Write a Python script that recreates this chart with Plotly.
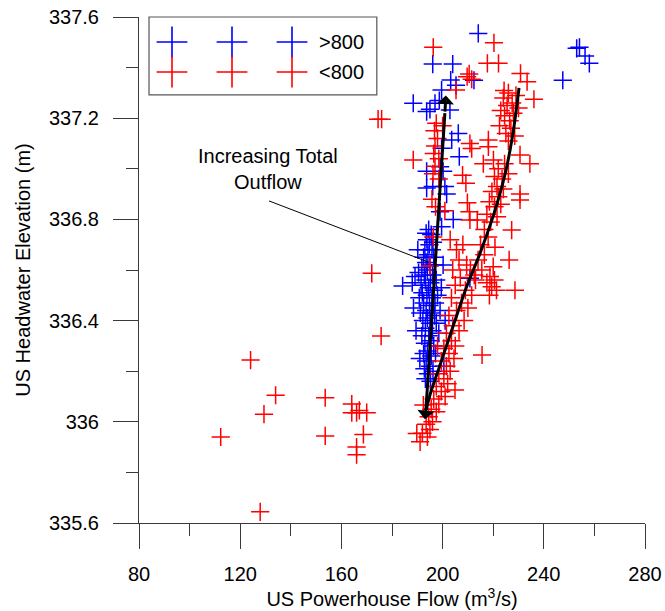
import plotly.graph_objects as go

# ---------------- data ----------------
# blue crosses: total outflow > 800
BLUE_X = [214.1, 253.0, 254.1, 256.3, 258.0, 247.5, 196.1, 204.0, 203.2, 205.3,
          212.4, 199.6, 198.7, 188.4, 195.0, 197.0, 202.9, 206.2, 203.6, 206.6,
          199.6, 199.0, 193.7, 200.2, 196.1, 200.9, 201.6, 199.0, 204.2, 199.6,
          184.2, 189.1, 210.8, 193.7, 193.7,
          194.5, 195.5, 193.8, 196.2, 194.8, 193.0, 195.8, 194.2, 192.5, 196.5,
          193.5, 195.0, 191.8, 197.0, 194.0, 192.8, 196.0, 190.5, 193.2, 195.2,
          197.5, 191.5, 194.5, 192.0, 196.5, 193.8, 195.8, 190.8, 198.0, 192.5,
          194.8, 197.0, 193.5, 195.5, 191.2, 196.8, 199.0, 194.0, 192.2, 195.0,
          197.5, 193.2, 196.0, 194.5, 191.8, 198.5, 195.2, 193.0, 196.5, 194.0,
          192.5, 195.5, 197.2, 193.5, 195.0, 192.8, 194.2, 196.2, 193.2, 195.2,
          200.5, 201.0, 199.5, 188.5, 189.5, 190.2, 193.5, 200.2, 188.0, 191.0]
BLUE_Y = [337.535, 337.476, 337.48, 337.446, 337.417, 337.35, 337.414, 337.414, 337.351, 337.33,
          337.35, 337.311, 337.27, 337.259, 337.235, 337.259, 337.232, 337.14, 337.114, 337.048,
          337.081, 337.008, 336.99, 336.99, 336.93, 336.93, 336.90, 336.83, 336.80, 336.771,
          336.537, 336.574, 336.567, 337.226, 336.924,
          336.76, 336.74, 336.72, 336.71, 336.70, 336.68, 336.68, 336.66, 336.65, 336.65,
          336.63, 336.62, 336.61, 336.62, 336.60, 336.58, 336.58, 336.59, 336.56, 336.55,
          336.56, 336.54, 336.53, 336.51, 336.52, 336.50, 336.49, 336.49, 336.50, 336.47,
          336.46, 336.47, 336.44, 336.43, 336.43, 336.42, 336.44, 336.41, 336.40, 336.39,
          336.39, 336.37, 336.36, 336.34, 336.34, 336.35, 336.32, 336.31, 336.30, 336.28,
          336.27, 336.26, 336.27, 336.24, 336.22, 336.21, 336.19, 336.20, 336.17, 336.16,
          336.22, 336.40, 336.53, 336.45, 336.36, 336.68, 336.745, 336.62, 336.55, 336.25]

# red crosses: total outflow < 800
RED_X = [124.1, 112.3, 129.4, 134.0, 127.9, 153.6, 153.6, 164.1, 164.1, 166.0,
         167.1, 170.0, 168.7, 166.0, 166.0, 175.7, 172.0, 175.9, 174.5, 188.4,
         196.3, 220.3, 217.7, 222.1, 210.5, 209.7, 211.5, 230.8, 233.4, 205.3,
         224.3, 236.1, 210.8, 211.5, 218.1, 218.1, 220.1, 216.1, 230.6, 234.5,
         207.9, 209.2, 230.6, 230.6, 209.8, 210.6, 210.8, 213.7, 200.9, 227.3,
         220.7, 226.3, 220.0, 218.7, 219.4, 221.3, 228.6, 195.0, 196.3, 215.6,
         204.9, 192.4, 189.8, 191.1,
         197.5, 196.8, 198.0, 197.0, 196.5, 198.5, 197.0, 196.2, 198.5, 195.8,
         197.2, 200.0,
         224.0, 226.0, 227.5, 229.0, 225.5, 228.0, 230.0, 224.5, 226.5, 223.0,
         227.0, 225.0, 228.5, 222.5, 226.0,
         222.0, 224.5, 220.5, 223.5, 226.0, 221.5, 219.5, 224.0, 222.0, 218.5,
         220.5, 223.0, 217.5, 219.0, 221.5, 216.5, 218.0, 215.0, 216.5, 214.0,
         212.5, 215.5, 217.5, 218.5, 220.5,
         203.0, 205.5, 208.0, 206.5, 209.5, 204.0, 211.0, 207.0, 213.0, 205.0,
         209.0, 211.5, 203.5, 207.5, 210.0, 205.5, 202.5, 208.5, 204.0, 206.5,
         201.5, 203.5, 205.0, 200.5, 202.5, 204.5, 199.5, 201.5, 203.0, 198.5,
         200.5, 202.0, 197.5, 199.5, 201.0, 196.5, 198.5, 195.5, 197.5, 194.5,
         196.0, 193.5, 195.0, 192.0, 194.0, 198.0]
RED_Y = [336.244, 335.94, 336.03, 336.105, 335.644, 336.095, 335.944, 336.07, 336.036, 336.036,
         336.045, 336.036, 335.95, 335.90, 335.87, 336.339, 336.587, 337.196, 337.196, 337.035,
         337.48, 337.498, 337.417, 337.417, 337.375, 337.364, 337.354, 337.377, 337.344, 337.311,
         337.309, 337.275, 337.10, 337.08, 337.114, 337.087, 337.035, 337.02, 337.055, 337.02,
         336.975, 336.943, 336.90, 336.877, 336.866, 336.83, 336.798, 336.798, 336.834, 336.758,
         336.69, 336.64, 336.613, 336.574, 336.534, 336.52, 336.52, 336.616, 336.73, 336.264,
         336.126, 336.066, 335.954, 335.921,
         337.18, 337.15, 337.12, 337.09, 337.06, 337.04, 337.01, 336.98, 336.96, 336.88,
         336.85, 337.17,
         337.28, 337.30, 337.26, 337.29, 337.25, 337.22, 337.24, 337.21, 337.19, 337.23,
         337.16, 337.14, 337.13, 337.17, 337.11,
         337.00, 337.02, 336.97, 336.96, 336.98, 336.93, 336.91, 336.92, 336.89, 336.87,
         336.85, 336.86, 336.82, 336.79, 336.81, 336.76, 336.73, 336.70, 336.66, 336.64,
         336.58, 336.60, 336.55, 336.50, 336.56,
         336.72, 336.68, 336.70, 336.64, 336.62, 336.60, 336.60, 336.57, 336.56, 336.54,
         336.52, 336.50, 336.49, 336.47, 336.45, 336.44, 336.42, 336.40, 336.38, 336.36,
         336.35, 336.32, 336.30, 336.29, 336.27, 336.25, 336.24, 336.22, 336.20, 336.19,
         336.17, 336.15, 336.14, 336.12, 336.10, 336.09, 336.07, 336.05, 336.04, 336.02,
         336.00, 335.99, 335.97, 335.955, 335.94, 336.30]

# hand-drawn trend lines
LOOP_DOWN_X = [230.2, 228.0, 225.4, 222.7, 219.9, 214.8, 209.5, 204.9, 199.0, 195.0, 193.6]
LOOP_DOWN_Y = [337.32, 337.153, 337.01, 336.903, 336.81, 336.666, 336.534, 336.40, 336.225, 336.106, 336.05]
LOOP_UP_X = [193.4, 200.9]
LOOP_UP_Y = [336.047, 337.22]

LEGEND_LABELS = ["", "", ">800"]
LEGEND_LABELS_RED = ["", "", "<800"]

X_TICKS = [80, 120, 160, 200, 240, 280]
Y_TICKS = [335.6, 336.0, 336.4, 336.8, 337.2, 337.6]
Y_TICK_TEXT = ["335.6", "336", "336.4", "336.8", "337.2", "337.6"]

FONT = "Liberation Sans, Arial, sans-serif"
AXIS_COLOR = "#3a3a3a"

fig = go.Figure()

fig.add_trace(go.Scatter(x=BLUE_X, y=BLUE_Y, mode="markers", name=">800",
                         marker=dict(symbol="cross-thin", size=13, color="#0000ff",
                                     line=dict(width=1.5, color="#0000ff")),
                         showlegend=False))
fig.add_trace(go.Scatter(x=RED_X, y=RED_Y, mode="markers", name="<800",
                         marker=dict(symbol="cross-thin", size=13, color="#ff0000",
                                     line=dict(width=1.5, color="#ff0000")),
                         showlegend=False))

# trend lines
for lx, ly in [(LOOP_DOWN_X, LOOP_DOWN_Y), (LOOP_UP_X, LOOP_UP_Y)]:
    fig.add_trace(go.Scatter(x=lx, y=ly, mode="lines", line=dict(color="black", width=3),
                             line_shape="spline", showlegend=False, hoverinfo="skip"))

# arrow heads
arrow = dict(showarrow=True, text="", axref="x", ayref="y", arrowhead=1,
             arrowsize=0.95, arrowwidth=3, arrowcolor="black", standoff=0)
fig.add_annotation(x=193.0, y=336.01, ax=193.6, ay=336.06, **arrow)
fig.add_annotation(x=201.3, y=337.29, ax=200.9, ay=337.22, **arrow)

# label + leader line
fig.add_annotation(x=131.0, y=337.0, text="Increasing Total<br>Outflow", showarrow=False,
                   font=dict(family=FONT, size=20, color="black"), align="center")
fig.add_shape(type="line", x0=131.4, y0=336.873, x1=194.2, y1=336.632,
              line=dict(color="black", width=1))

# legend drawn on an overlay axis spanning the plot area (0..1)
fig.add_shape(type="rect", xref="paper", yref="paper", x0=0.0198, x1=0.470, y0=0.846, y1=1.0,
              line=dict(color="#555555", width=1.2), fillcolor="white", layer="below")
leg_cols = [0.0652, 0.1838, 0.3024]
for row_y, color, labels in [(0.9506, "#0000ff", LEGEND_LABELS), (0.8913, "#ff0000", LEGEND_LABELS_RED)]:
    fig.add_trace(go.Scatter(x=leg_cols, y=[row_y] * 3, xaxis="x2", yaxis="y2", mode="markers",
                             marker=dict(symbol="cross-thin", size=22, color=color,
                                         line=dict(width=1.6, color=color)),
                             showlegend=False, hoverinfo="skip"))
    fig.add_annotation(x=0.3518, y=row_y, xref="x2", yref="y2", text=labels[2], showarrow=False,
                       xanchor="left", font=dict(family=FONT, size=20, color="black"))

fig.update_layout(
    width=665, height=611,
    margin=dict(l=139, r=20, t=17, b=88),
    plot_bgcolor="white", paper_bgcolor="white",
    font=dict(family=FONT, size=20, color="black"),
    showlegend=False,
    xaxis=dict(range=[80, 280], tickvals=X_TICKS, ticks="outside", ticklen=25, tickwidth=1,
               tickcolor=AXIS_COLOR, showline=True, linecolor=AXIS_COLOR, linewidth=1,
               showgrid=False, zeroline=False, automargin=False, ticklabelstandoff=8,
               ticklabeloverflow="allow",
               minor=dict(dtick=20, ticks="outside", ticklen=12, tickcolor=AXIS_COLOR, showgrid=False),
               title=dict(text="US Powerhouse Flow (m<sup>3</sup>/s)", standoff=2,
                          font=dict(size=20))),
    yaxis=dict(range=[335.6, 337.6], tickvals=Y_TICKS, ticktext=Y_TICK_TEXT, ticks="outside",
               ticklen=25, tickwidth=1, tickcolor=AXIS_COLOR, showline=True, linecolor=AXIS_COLOR,
               linewidth=1, showgrid=False, zeroline=False, ticklabelstandoff=10, automargin=False,
               ticklabeloverflow="allow",
               minor=dict(dtick=0.2, ticks="outside", ticklen=12, tickcolor=AXIS_COLOR, showgrid=False),
               title=dict(text="US Headwater Elevation (m)", standoff=12, font=dict(size=20))),
    xaxis2=dict(overlaying="x", range=[0, 1], visible=False, fixedrange=True),
    yaxis2=dict(overlaying="y", range=[0, 1], visible=False, fixedrange=True),
)

# drop the page's default body margin so the 665x611 figure fills the window exactly
fig.write_html("out.html", config={"displayModeBar": False},
               post_script="document.body.style.margin='0';document.body.style.overflow='hidden';")
